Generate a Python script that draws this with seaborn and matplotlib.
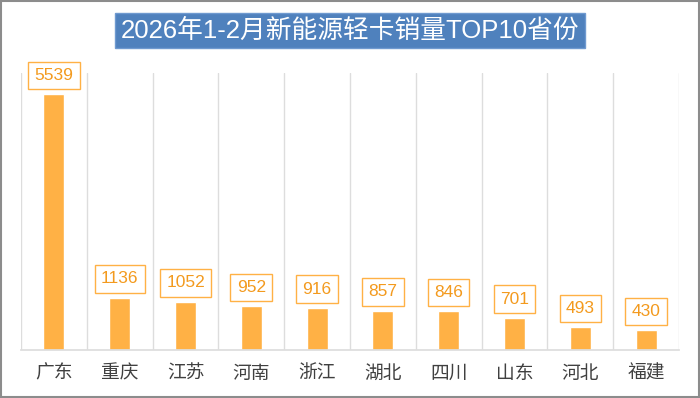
import numpy as np
import pandas as pd
import matplotlib
matplotlib.use("Agg")
import matplotlib.pyplot as plt
import seaborn as sns

TITLE = "2026年1-2月新能源轻卡销量TOP10省份"
PROVINCES = ["广东", "重庆", "江苏", "河南", "浙江", "湖北", "四川", "山东", "河北", "福建"]
SALES = [5539, 1136, 1052, 952, 916, 857, 846, 701, 493, 430]

BAR_COLOR = "#FFB145"
LABEL_COLOR = "#F39A1E"
GRID_COLOR = "#DDDDDD"
TITLE_BG = "#4F81BD"

sns.set_theme(style="white")
plt.rcParams["font.family"] = ["Noto Sans CJK SC", "DejaVu Sans"]

df = pd.DataFrame({"省份": PROVINCES, "销量": SALES})

fig = plt.figure(figsize=(7, 3.98), dpi=100)
ax = fig.add_axes([0.03, 0.12, 0.94, 0.697])

sns.barplot(data=df, x="省份", y="销量", color=BAR_COLOR, width=0.32,
            saturation=1, ax=ax)

ax.set_ylim(0, 6000)
ax.set_xlim(-0.5, len(PROVINCES) - 0.5)
ax.set_xlabel("")
ax.set_ylabel("")
ax.set_yticks([])

# vertical separators between categories
ax.set_xticks(np.arange(-0.5, len(PROVINCES), 1), minor=True)
ax.grid(True, which="minor", axis="x", color=GRID_COLOR, linewidth=1)
ax.tick_params(axis="x", which="both", length=0, labelsize=13.5, colors="#404040", pad=9)

for side in ["top", "left", "right"]:
    ax.spines[side].set_visible(False)
ax.spines["bottom"].set_color(GRID_COLOR)

# boxed value labels
for i, v in enumerate(SALES):
    ax.annotate(f"{v}", (i, v), xytext=(0, 13.5), textcoords="offset points",
                ha="center", va="center", fontsize=12.5, color=LABEL_COLOR,
                family=["Liberation Sans", "DejaVu Sans"],
                bbox=dict(boxstyle="square,pad=0.36", fc="white", ec=BAR_COLOR, lw=1))

# title in blue box
fig.text(0.5, 0.923, TITLE, ha="center", va="center", fontsize=18.5, color="white",
         family=["Liberation Sans", "Noto Sans CJK SC"],
         bbox=dict(boxstyle="square,pad=0.22", fc=TITLE_BG, ec="#6F9AD0", lw=1))

# outer frame
fig.patches.append(plt.Rectangle((0.001, 0.002), 0.997, 0.995, transform=fig.transFigure,
                                 fill=False, ec="#8C8C8C", lw=1.5))

fig.savefig("out.png", dpi=100)
